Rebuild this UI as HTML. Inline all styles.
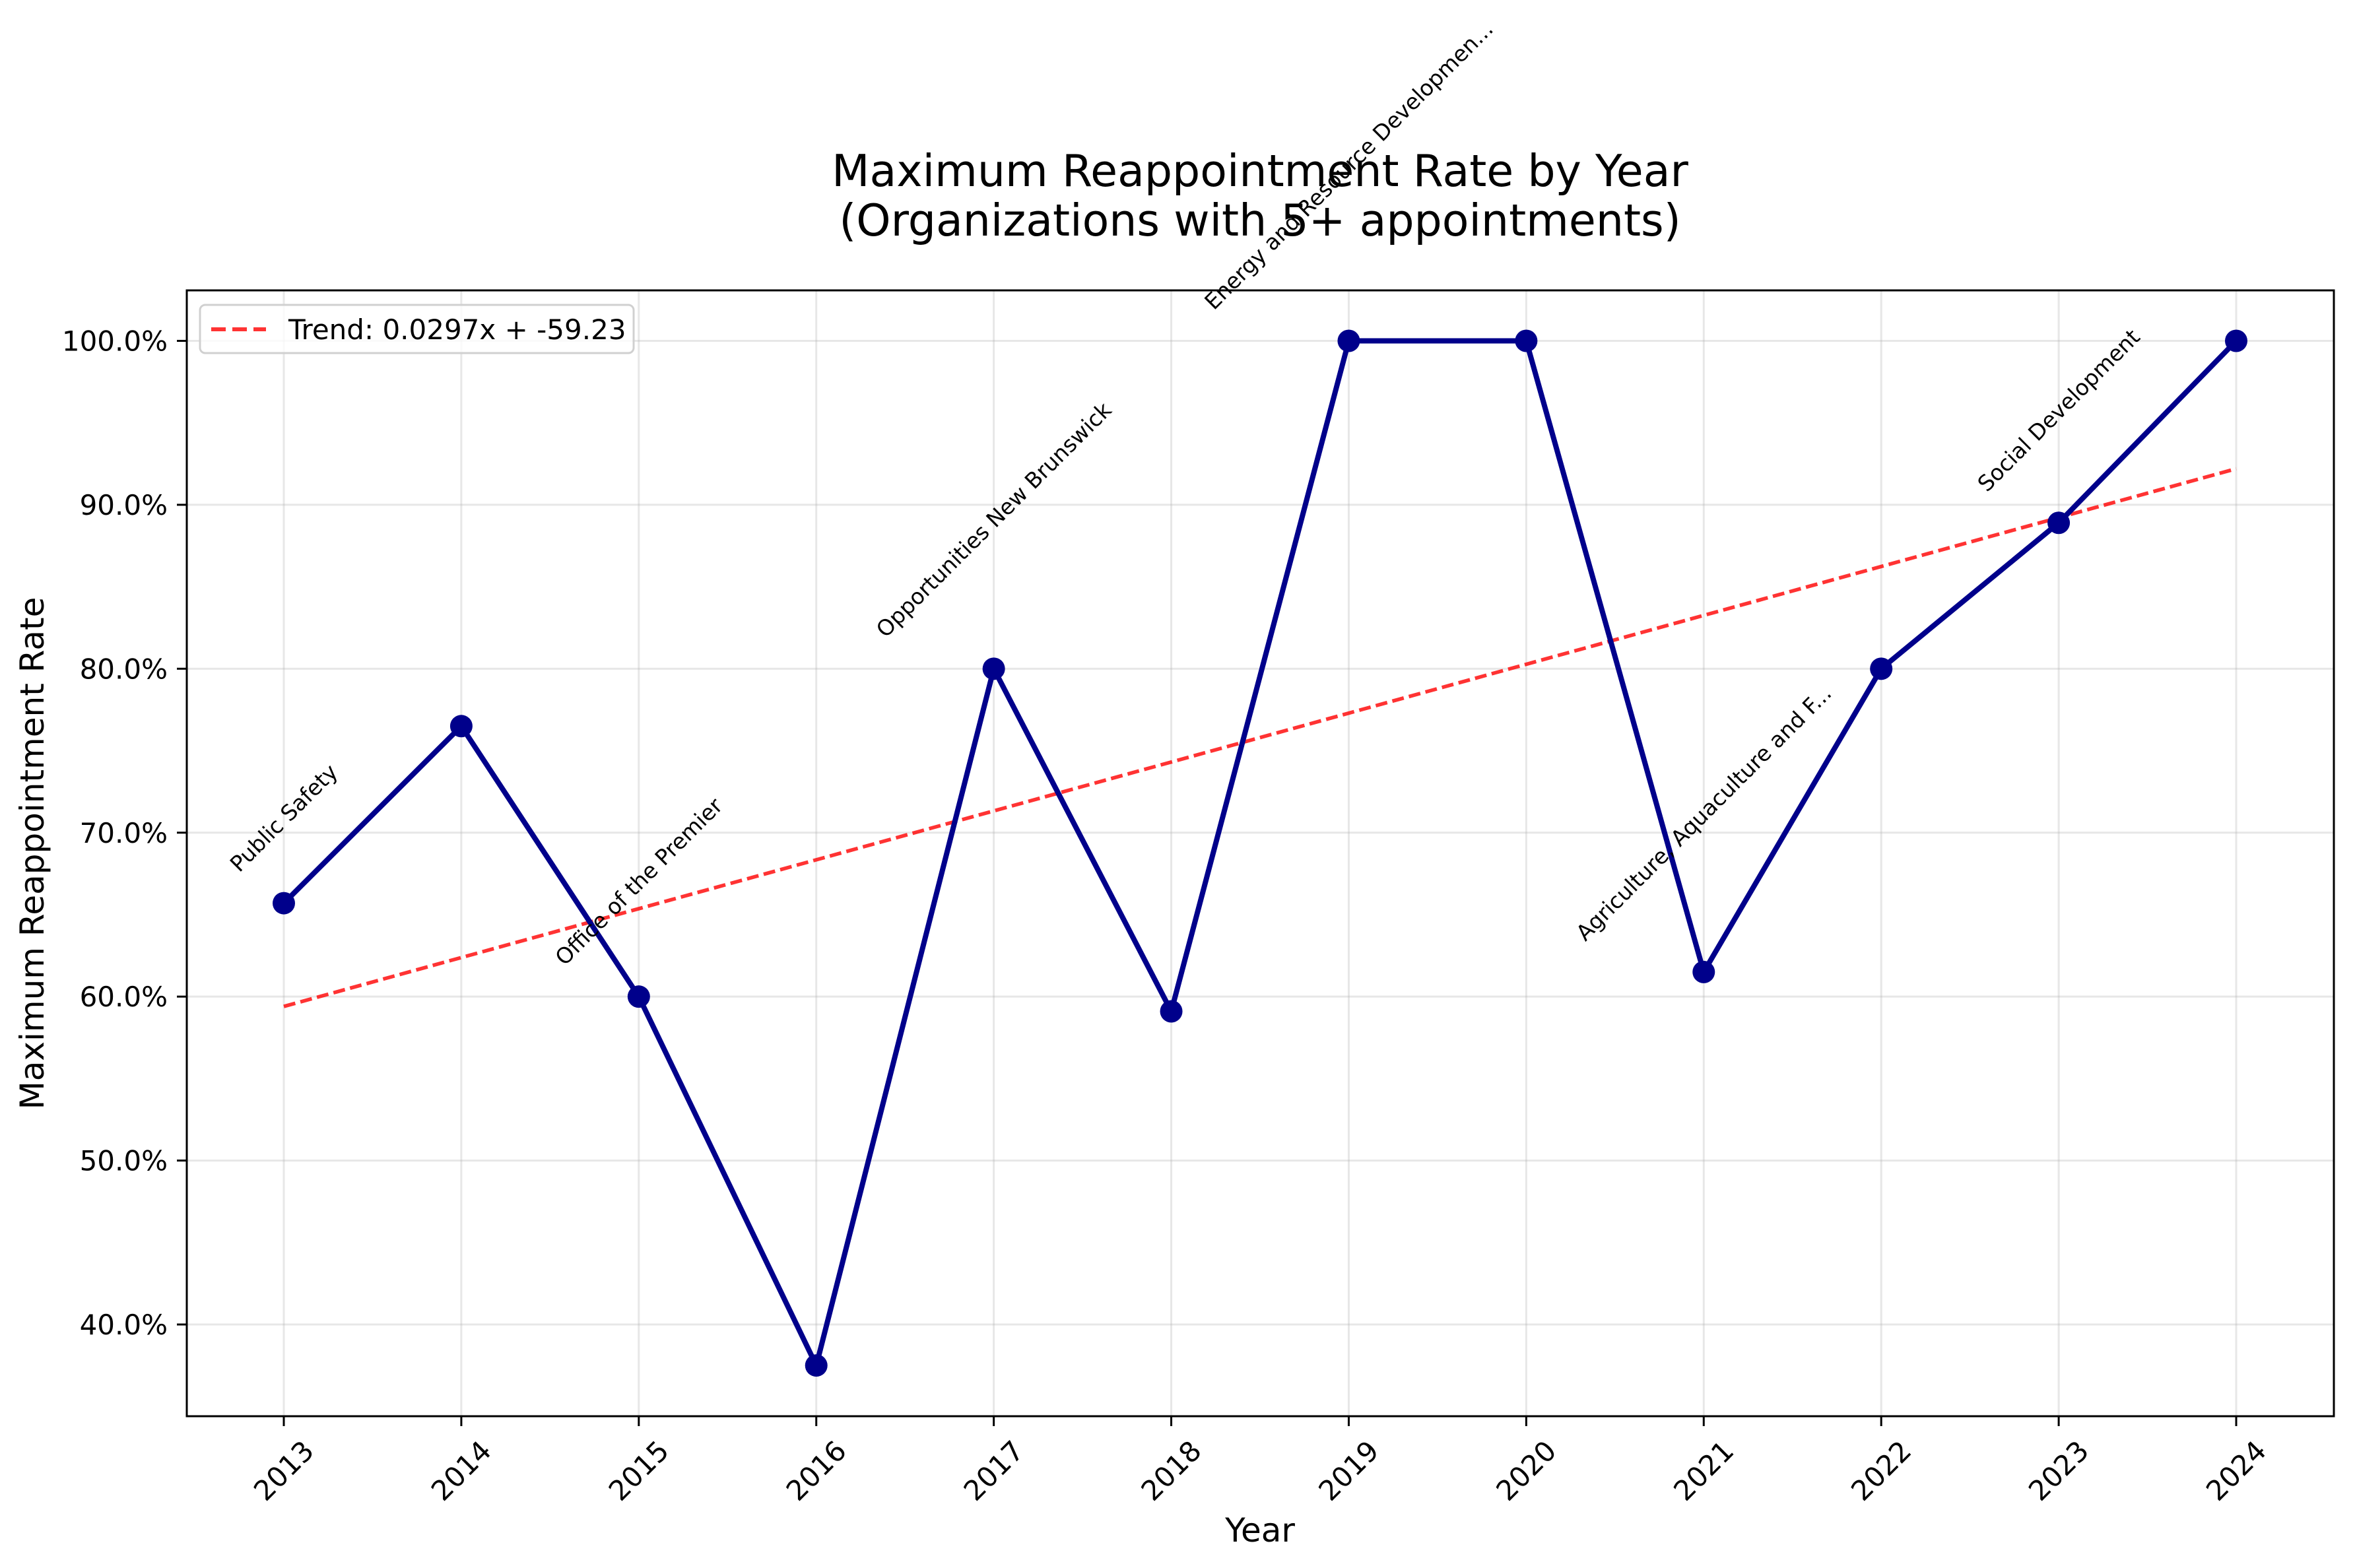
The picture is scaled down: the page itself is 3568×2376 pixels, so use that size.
<!DOCTYPE html>
<html><head><meta charset="utf-8"><style>
html,body{margin:0;padding:0;background:#fff}
svg{display:block;font-family:"DejaVu Sans","Liberation Sans",sans-serif}
</style></head><body>
<svg id="chart" width="3568" height="2376" viewBox="0 0 3568 2376" xmlns="http://www.w3.org/2000/svg">
<rect width="3568" height="2376" fill="#fff"/>
<g id="grid"></g>
<g id="trendG"></g>
<g id="series"></g>
<g id="annos"></g>
<rect x="283" y="440" width="3253" height="1706" fill="none" stroke="#000" stroke-width="3"/>
<g id="ticks"></g>
<text x="1909" y="282" font-size="66.5" text-anchor="middle">Maximum Reappointment Rate by Year</text>
<text x="1909" y="357" font-size="66.5" text-anchor="middle">(Organizations with 5+ appointments)</text>
<text transform="translate(66,1293) rotate(-90)" font-size="50" text-anchor="middle">Maximum Reappointment Rate</text>
<text x="1909" y="2336" font-size="50" text-anchor="middle">Year</text>
<g>
<rect x="303" y="462" width="657" height="73" rx="8" fill="#fff" fill-opacity="0.8" stroke="#d0d0d0" stroke-width="3"/>
<line x1="320" y1="499" x2="403" y2="499" stroke="#ff3333" stroke-width="6" stroke-dasharray="22 10"/>
<text x="437" y="514" font-size="42">Trend: 0.0297x + -59.23</text>
</g>
</svg>
<script>
const years=[2013,2014,2015,2016,2017,2018,2019,2020,2021,2022,2023,2024];
const rates=[65.7,76.5,60.0,37.5,80.0,59.1,100.0,100.0,61.5,80.0,88.9,100.0];
const yTicks=[40,50,60,70,80,90,100];
const trendEnds=[59.4,92.2];
const annoYears=[2013,2015,2017,2019,2021,2023];
const annoLabels=["Public Safety","Office of the Premier","Opportunities New Brunswick","Energy and Resource Developmen...","Agriculture, Aquaculture and F...","Social Development"];

const NS="http://www.w3.org/2000/svg";
const X=y=>430+(y-2013)*(3388-430)/11;
const Y=v=>2007-(v-40)*(2007-516.5)/60;
function mk(tag,attrs,parent){const e=document.createElementNS(NS,tag);for(const k in attrs)e.setAttribute(k,attrs[k]);parent.appendChild(e);return e;}
const grid=document.getElementById('grid'),ticks=document.getElementById('ticks');
years.forEach(y=>{
  const g=mk('line',{x1:X(y),x2:X(y),y1:440,y2:2146,stroke:'#b0b0b0','stroke-opacity':0.3,'stroke-width':3},grid);
  
  
  const t=mk('line',{x1:X(y),x2:X(y),y1:2146,y2:2161,stroke:'#000','stroke-width':3},ticks);
  
  
  const l=mk('text',{'font-size':42,'text-anchor':'middle','dominant-baseline':'central'},ticks);
  l.textContent=y;
  
  
  const w=l.getComputedTextLength(),h=42;
  const bh=(w+h)*0.7071;
  l.setAttribute('transform',`translate(${X(y)},${2176+bh/2}) rotate(-45)`);
});
yTicks.forEach(v=>{
  const g=mk('line',{x1:283,x2:3536,y1:Y(v),y2:Y(v),stroke:'#b0b0b0','stroke-opacity':0.3,'stroke-width':3},grid);
  
  
  const t=mk('line',{x1:268,x2:283,y1:Y(v),y2:Y(v),stroke:'#000','stroke-width':3},ticks);
  
  
  const l=mk('text',{x:254,y:Y(v)+15,'font-size':42,'text-anchor':'end'},ticks);
  l.textContent=v.toFixed(1)+'%';
  
  
});
const tl=mk('line',{x1:X(years[0]),y1:Y(trendEnds[0]),x2:X(years[years.length-1]),y2:Y(trendEnds[1]),stroke:'#ff0000','stroke-opacity':0.8,'stroke-width':5.5,'stroke-dasharray':'18 8'},document.getElementById('trendG'));


const ser=document.getElementById('series');
const pl=mk('polyline',{points:years.map((y,i)=>X(y)+','+Y(rates[i])).join(' '),fill:'none',stroke:'#00008b','stroke-width':8,'stroke-linejoin':'round'},ser);


years.forEach((y,i)=>{
  const c=mk('circle',{cx:X(y),cy:Y(rates[i]),r:17,fill:'#00008b'},ser);
  
  
});
const an=document.getElementById('annos');
annoYears.forEach((y,k)=>{
  const v=rates[years.indexOf(y)];
  const t=mk('text',{'font-size':33,'text-anchor':'middle','dominant-baseline':'central'},an);
  t.textContent=annoLabels[k];
  
  
  const w=t.getComputedTextLength(),h=33;
  const bh=(w+h)*0.7071;
  t.setAttribute('transform',`translate(${X(y)},${Y(v)-42-bh/2}) rotate(-45)`);
});
</script>
</body></html>
